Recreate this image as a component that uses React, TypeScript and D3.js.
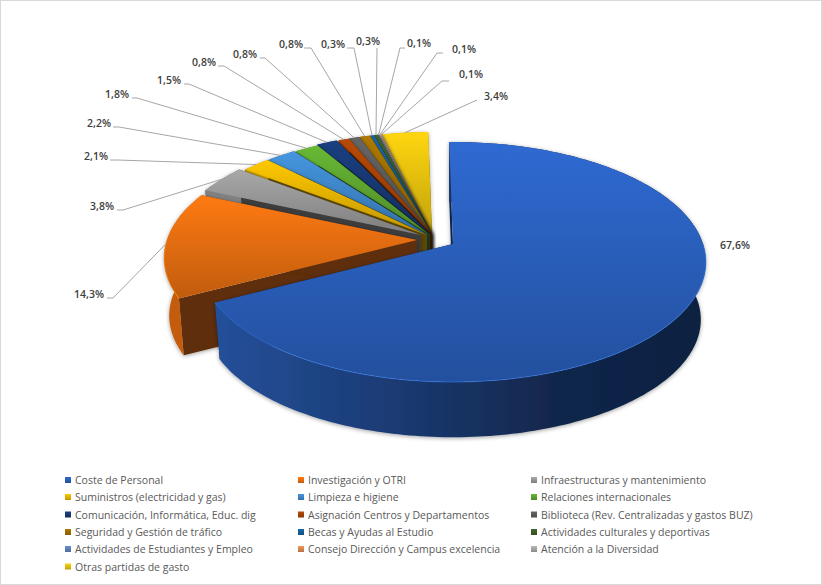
import React from "react";
import * as d3 from "d3";

const categories = [
  "Coste de Personal",
  "Investigación y OTRI",
  "Infraestructuras y mantenimiento",
  "Suministros (electricidad y gas)",
  "Limpieza e higiene",
  "Relaciones internacionales",
  "Comunicación, Informática, Educ. dig",
  "Asignación Centros y Departamentos",
  "Biblioteca (Rev. Centralizadas y gastos BUZ)",
  "Seguridad y Gestión de tráfico",
  "Becas y Ayudas al Estudio",
  "Actividades culturales y deportivas",
  "Actividades de Estudiantes y Empleo",
  "Consejo Dirección y Campus excelencia",
  "Atención a la Diversidad",
  "Otras partidas de gasto",
];
const values = [67.6, 14.3, 3.8, 2.1, 2.2, 1.8, 1.5, 0.8, 0.8, 0.8, 0.3, 0.3, 0.1, 0.1, 0.1, 3.4];
const colors = [
  "#2f6ad2", "#ff7a12", "#a8a8a8", "#ffc800", "#4596e0", "#68b835", "#1a3f80", "#b84a07",
  "#666666", "#b07a00", "#1b68a8", "#43682b", "#698ed0", "#f1975a", "#b7b7b7", "#ffd60f",
];

// where each slice's point ended up after the explode
const apexX = [453, 417, 421, 427, 428, 430, 430, 432, 432, 432, 432, 432, 432, 432, 432, 432];
const apexY = [244, 240, 235, 235, 235, 235, 234, 234, 234, 234, 234, 234, 234, 234, 234, 234];

// data label placement and leader elbows (first one has no leader)
const labelX = [735, 89, 102, 96, 99, 117, 169, 204, 245, 291, 333, 368, 419, 464, 471, 496];
const labelY = [245, 294, 206, 156, 123, 94, 80, 62, 54, 44, 44, 41, 43, 49, 74, 96];
const leadStart = [0, 107, 117, 110, 113, 132, 184, 218, 260, 304, 347, 377, 405, 443, 449, 477];
const leadElbow = [0, 113, 123, 117, 119, 137, 189, 224, 265, 311, 354, 377, 400, 437, 442, 477];
const leadY = [0, 298, 210, 160, 127, 98, 84, 66, 58, 48, 48, 48, 48, 53, 81, 100];

const legendColX = [65, 298, 531];
const legendRowY = [480, 497, 514.5, 532, 549, 566.5];

// perspective of the tilted disc
const RX = 250;
const RY = 117.3;
const PERSP = 0.15;
const DEPTH = 58;
const BOTTOM_SCALE = 0.98;
const START = (-1 * Math.PI) / 180;

const pieGen = d3
  .pie<number>()
  .sort(null)
  .startAngle(START)
  .endAngle(START + 2 * Math.PI);

const line = d3.line();

function project(angle: number, i: number, low = false): [number, number] {
  const d = 1 + PERSP * Math.cos(angle);
  const s = low ? BOTTOM_SCALE : 1;
  return [
    apexX[i] + (s * RX * Math.sin(angle)) / d,
    apexY[i] + (low ? DEPTH : 0) - (s * RY * Math.cos(angle)) / d,
  ];
}

function arcPoints(a0: number, a1: number, i: number, low = false) {
  const n = Math.max(2, Math.ceil((a1 - a0) / 0.02));
  return d3.range(n + 1).map((k) => project(a0 + ((a1 - a0) * k) / n, i, low));
}

const center = (i: number, low = false): [number, number] => [apexX[i], apexY[i] + (low ? DEPTH : 0)];

export default function App() {
  const arcs = pieGen(values);
  const order = d3.range(values.length).reverse();

  return (
    <svg
      width={822}
      height={585}
      style={{ position: "absolute", left: 0, top: 0, fontFamily: "'Open Sans', sans-serif" }}
    >
      <defs>
        {colors.map((c, i) => (
          <linearGradient key={i} id={`top${i}`} x1="0" y1="0" x2="0" y2="1">
            <stop offset="0" stopColor={c} />
            <stop offset="1" stopColor={d3.color(c)!.darker(0.8).formatHex()} />
          </linearGradient>
        ))}
        <linearGradient id="blueWall" gradientUnits="userSpaceOnUse" x1="217" y1="0" x2="707" y2="0">
          <stop offset="0" stopColor="#245099" />
          <stop offset="0.3" stopColor="#1c3e7a" />
          <stop offset="0.7" stopColor="#11264a" />
          <stop offset="1" stopColor="#0e2040" />
        </linearGradient>
        <filter id="softShadow" x="-10%" y="-10%" width="120%" height="120%">
          <feDropShadow dx="0" dy="1" stdDeviation="2" floodColor="#000" floodOpacity="0.38" />
        </filter>
      </defs>

      <rect x={0.5} y={0.5} width={821} height={584} fill="#fff" stroke="#d9d9d9" />

      {order.map((i) => {
        const { startAngle: a0, endAngle: a1 } = arcs[i];
        const c = d3.color(colors[i])!;
        const radial = c.darker(2.8).formatHex();
        const outer = i === 0 ? "url(#blueWall)" : c.darker(0.75).formatHex();
        const topArc = arcPoints(a0, a1, i);
        const lowArc = arcPoints(a0, a1, i, true);
        const frontFrom = Math.max(a0, Math.PI / 2);
        const frontTo = Math.min(a1, (3 * Math.PI) / 2);
        return (
          <g key={i}>
            <g filter="url(#softShadow)">
              <path
                d={line([center(i), project(a0, i), project(a0, i, true), center(i, true)])! + "Z"}
                fill={radial}
              />
              <path
                d={line([center(i), project(a1, i), project(a1, i, true), center(i, true)])! + "Z"}
                fill={radial}
              />
              <path d={line([...topArc, ...lowArc.slice().reverse()])! + "Z"} fill={outer} />
            </g>
            <path d={line([center(i), ...topArc])! + "Z"} fill={`url(#top${i})`} />
            {frontTo > frontFrom && (
              <path
                d={line(arcPoints(frontFrom, frontTo, i))!}
                fill="none"
                stroke={c.brighter(0.4).formatHex()}
                strokeOpacity={0.6}
              />
            )}
          </g>
        );
      })}

      {values.map((v, i) => {
        const mid = (arcs[i].startAngle + arcs[i].endAngle) / 2;
        const label = v.toFixed(1).replace(".", ",") + "%";
        return (
          <g key={i}>
            {i > 0 && (
              <path
                d={line([[leadStart[i], leadY[i]], [leadElbow[i], leadY[i]], project(mid, i)])!}
                fill="none"
                stroke="#a6a6a6"
              />
            )}
            <text
              x={labelX[i]}
              y={labelY[i]}
              textAnchor="middle"
              dominantBaseline="central"
              fontSize={10.5}
              fontWeight={600}
              fill="#404040"
            >
              {label}
            </text>
          </g>
        );
      })}

      {categories.map((name, i) => {
        const col = i % 3;
        const row = Math.floor(i / 3);
        const x = legendColX[col];
        const y = legendRowY[row];
        return (
          <g key={name}>
            <rect x={x} y={y - 3} width={6} height={6} fill={`url(#top${i})`} />
            <text x={x + 10} y={y} dominantBaseline="central" fontSize={10.5} fill="#595959">
              {name}
            </text>
          </g>
        );
      })}
    </svg>
  );
}
